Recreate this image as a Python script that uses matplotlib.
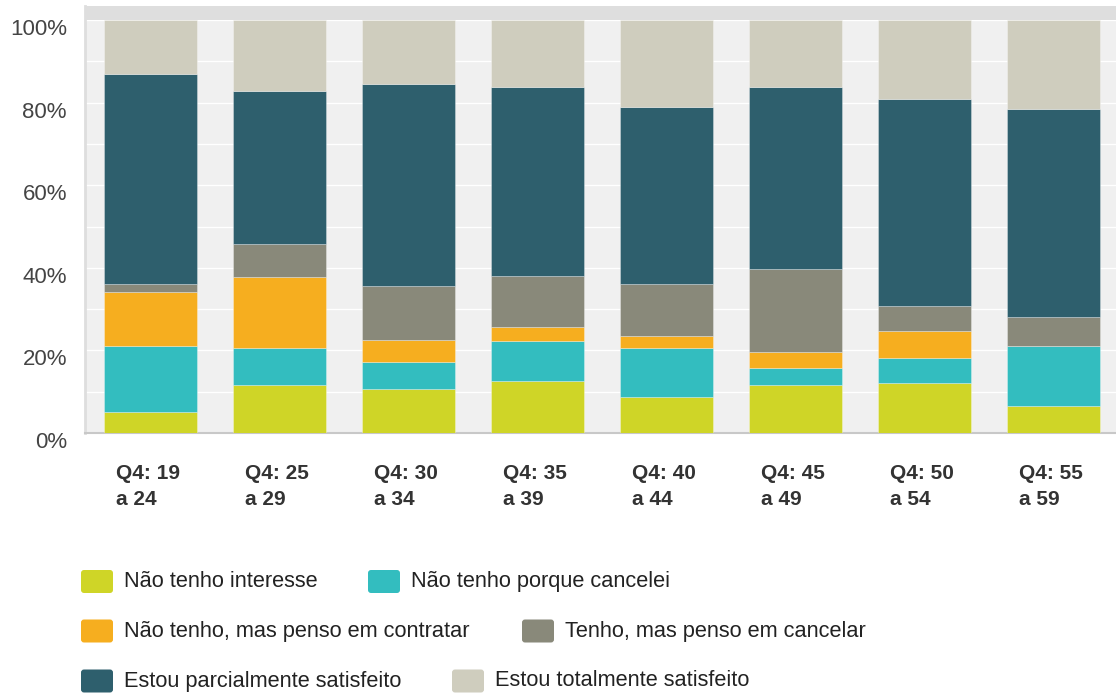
import matplotlib
matplotlib.use('Agg')
import matplotlib.pyplot as plt
from matplotlib.patches import FancyBboxPatch
from matplotlib.transforms import IdentityTransform, ScaledTranslation

plt.rcParams['font.family'] = ['Liberation Sans', 'DejaVu Sans']

# data (percent of each age group)
groups = ['Q4: 19\na 24', 'Q4: 25\na 29', 'Q4: 30\na 34', 'Q4: 35\na 39',
          'Q4: 40\na 44', 'Q4: 45\na 49', 'Q4: 50\na 54', 'Q4: 55\na 59']
labels = ['Não tenho interesse', 'Não tenho porque cancelei',
          'Não tenho, mas penso em contratar', 'Tenho, mas penso em cancelar',
          'Estou parcialmente satisfeito', 'Estou totalmente satisfeito']
sem_interesse = [5.2, 11.6, 10.7, 12.6, 8.6, 11.6, 12.2, 6.6]
cancelei = [15.9, 9.1, 6.4, 9.6, 12.1, 4.1, 6.0, 14.5]
penso_contratar = [13.1, 17.0, 5.5, 3.5, 2.9, 4.0, 6.4, 0.0]
penso_cancelar = [2.0, 8.0, 13.1, 12.4, 12.6, 20.0, 6.1, 7.1]
parcial = [50.7, 37.2, 48.7, 45.7, 42.7, 44.1, 50.2, 50.2]
total = [13.1, 17.1, 15.6, 16.2, 21.1, 16.2, 19.1, 21.6]
series = [sem_interesse, cancelei, penso_contratar, penso_cancelar, parcial, total]
colors = ['#cfd527', '#33bdbf', '#f6ae1f', '#89897a', '#2e5f6d', '#cfcdbe']

W, H = 1116, 693
fig = plt.figure(figsize=(W / 100, H / 100), dpi=100)
ax = fig.add_axes([85 / W, 260 / H, 1032 / W, 427 / H])
ax.set_facecolor('#f0f0f0')

x = list(range(len(groups)))
bottom = [0.0] * len(groups)
for vals, c in zip(series, colors):
    ax.bar(x, vals, 0.72, bottom=bottom, color=c,
           edgecolor=(1, 1, 1, 0.35), linewidth=0.6, zorder=3)
    bottom = [b + v for b, v in zip(bottom, vals)]

ax.set_xlim(-0.508, 7.49)
ax.set_ylim(0, 103.4)
ax.axhspan(100, 103.4, color='#dedede', zorder=4, lw=0)

ax.set_yticks(range(0, 101, 20))
ax.set_yticks(range(0, 101, 10), minor=True)
ax.set_yticklabels(['0%', '20%', '40%', '60%', '80%', '100%'])
ax.grid(True, which='both', axis='y', color='white', linewidth=1.0, zorder=1)
ax.tick_params(axis='y', which='both', length=0, pad=13,
               labelsize=16, labelcolor='#444444')
off = ScaledTranslation(0, -7 / 100, fig.dpi_scale_trans)
for lab in ax.get_yticklabels():
    lab.set_transform(lab.get_transform() + off)

ax.set_xticks([])
for i, g in enumerate(groups):
    ax.annotate(g, xy=(i - 0.267, 0), xycoords=('data', 'axes fraction'),
                xytext=(0, -22.5), textcoords='offset points',
                ha='left', va='top', fontsize=15, fontweight='bold',
                color='#333333', linespacing=1.45)

for s in ['top', 'right']:
    ax.spines[s].set_visible(False)
ax.spines['left'].set_color('#dedede')
ax.spines['left'].set_linewidth(2)
ax.spines['bottom'].set_color('#c8c8c8')
ax.spines['bottom'].set_linewidth(1.5)

# legend, laid out as in the original (flowing rows)
leg_pos = [(81, 581.5), (368, 581.5), (81, 631), (522, 631), (81, 681), (452, 681)]
for (lx, ly), lab, c in zip(leg_pos, labels, colors):
    fig.add_artist(FancyBboxPatch((lx, H - ly - 11.5), 32, 23,
                                  boxstyle='round,pad=0,rounding_size=3',
                                  facecolor=c, edgecolor='none',
                                  transform=IdentityTransform()))
    fig.text((lx + 43) / W, 1 - ly / H, lab, ha='left', va='center',
             fontsize=15.7, color='#222222')

fig.savefig('out.png', dpi=100)
